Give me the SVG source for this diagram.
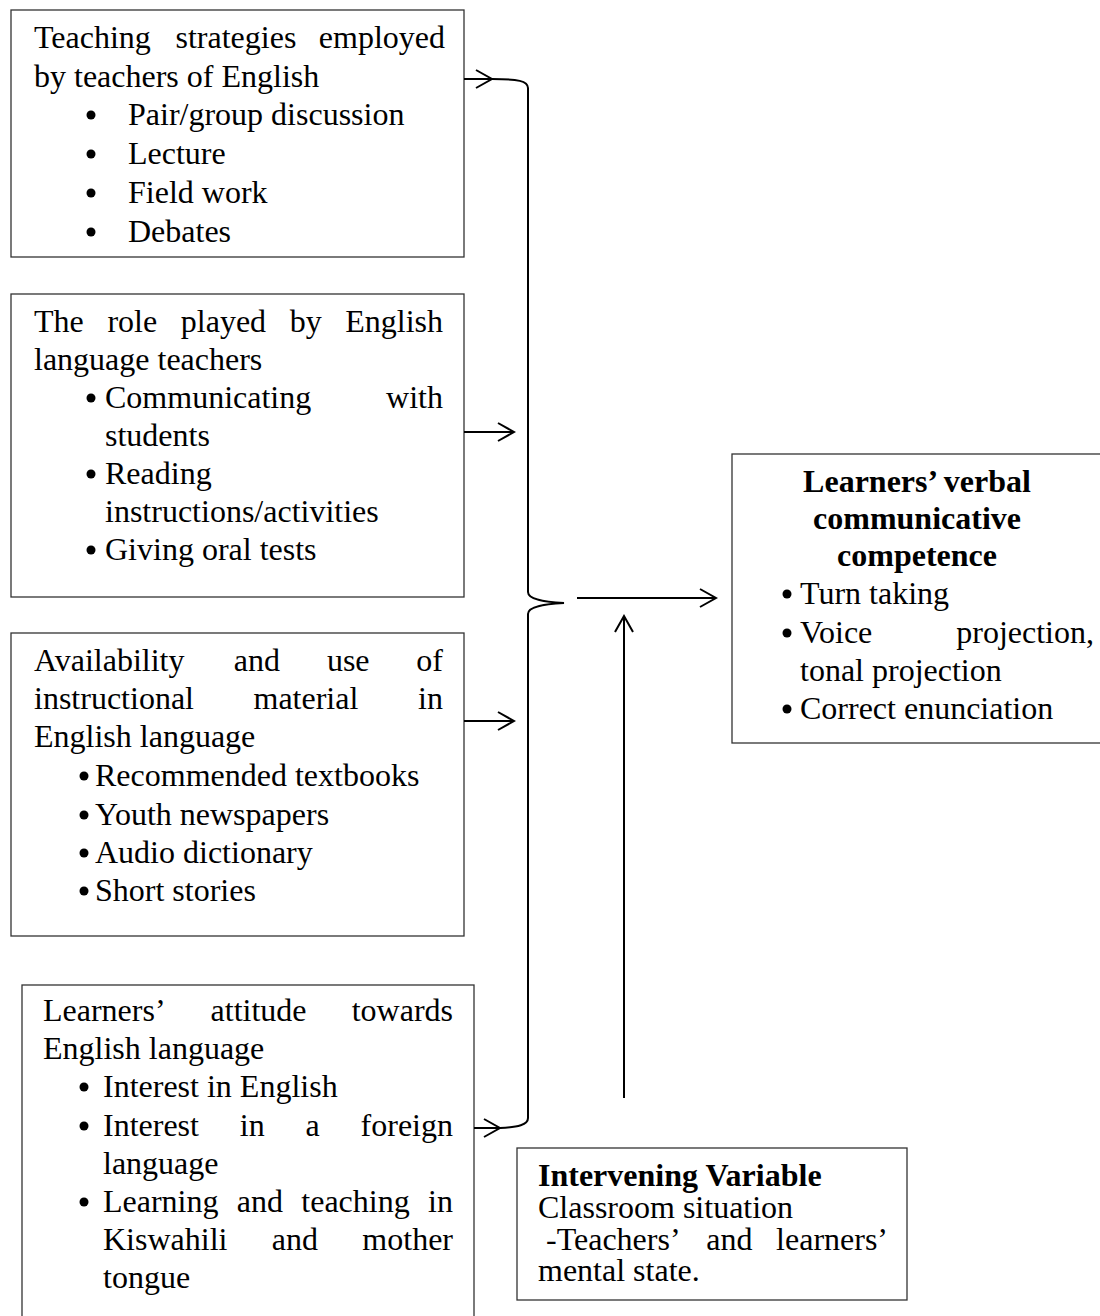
<svg xmlns="http://www.w3.org/2000/svg" width="1100" height="1316" viewBox="0 0 1100 1316">
<defs>
<style>
.t{font-family:"Liberation Serif","Times New Roman",serif;font-size:32px;fill:#000}
.b{font-weight:bold}
.e{text-anchor:end}
.box{fill:#fff;stroke:#333;stroke-width:1.3}
.c{fill:none;stroke:#000;stroke-width:2}
.dot{fill:#000}
</style>
<marker id="ah" viewBox="0 0 20 20" markerWidth="20" markerHeight="20" refX="18" refY="10" orient="auto" markerUnits="userSpaceOnUse">
<path d="M2,1 L18,10 L2,19" fill="none" stroke="#000" stroke-width="2"/>
</marker>
</defs>
<rect width="1100" height="1316" fill="#fff"/>

<g id="box-strategies">
<rect class="box" x="11" y="10" width="453" height="247"/>
<text class="t" y="48"><tspan x="34">Teaching</tspan><tspan x="175.5">strategies</tspan><tspan x="445" class="e">employed</tspan></text>
<text class="t" x="34" y="87">by teachers of English</text>
<circle class="dot" cx="91" cy="115" r="4.5"/><text class="t" x="128" y="125">Pair/group discussion</text>
<circle class="dot" cx="91" cy="154" r="4.5"/><text class="t" x="128" y="164">Lecture</text>
<circle class="dot" cx="91" cy="193" r="4.5"/><text class="t" x="128" y="203">Field work</text>
<circle class="dot" cx="91" cy="232" r="4.5"/><text class="t" x="128" y="242">Debates</text>
</g>

<g id="box-role">
<rect class="box" x="11" y="294" width="453" height="303"/>
<text class="t" y="332"><tspan x="34">The</tspan><tspan x="107.4">role</tspan><tspan x="180.8">played</tspan><tspan x="289.7">by</tspan><tspan x="443" class="e">English</tspan></text>
<text class="t" x="34" y="370">language teachers</text>
<circle class="dot" cx="91" cy="398" r="4.5"/><text class="t" y="408"><tspan x="105">Communicating</tspan><tspan x="443" class="e">with</tspan></text>
<text class="t" x="105" y="446">students</text>
<circle class="dot" cx="91" cy="474" r="4.5"/><text class="t" x="105" y="484">Reading</text>
<text class="t" x="105" y="522">instructions/activities</text>
<circle class="dot" cx="91" cy="550" r="4.5"/><text class="t" x="105" y="560">Giving oral tests</text>
</g>

<g id="box-materials">
<rect class="box" x="11" y="633" width="453" height="303"/>
<text class="t" y="671"><tspan x="34">Availability</tspan><tspan x="233.8">and</tspan><tspan x="326.9">use</tspan><tspan x="443" class="e">of</tspan></text>
<text class="t" y="709"><tspan x="34">instructional</tspan><tspan x="253.5">material</tspan><tspan x="443" class="e">in</tspan></text>
<text class="t" x="34" y="747">English language</text>
<circle class="dot" cx="84" cy="776" r="4.5"/><text class="t" x="95" y="786">Recommended textbooks</text>
<circle class="dot" cx="84" cy="815" r="4.5"/><text class="t" x="95" y="825">Youth newspapers</text>
<circle class="dot" cx="84" cy="853" r="4.5"/><text class="t" x="95" y="863">Audio dictionary</text>
<circle class="dot" cx="84" cy="891" r="4.5"/><text class="t" x="95" y="901">Short stories</text>
</g>

<g id="box-attitude">
<rect class="box" x="22" y="985" width="452" height="345"/>
<text class="t" y="1021"><tspan x="43">Learners’</tspan><tspan x="210.6">attitude</tspan><tspan x="453" class="e">towards</tspan></text>
<text class="t" x="43" y="1059">English language</text>
<circle class="dot" cx="84" cy="1087" r="4.5"/><text class="t" x="103" y="1097">Interest in English</text>
<circle class="dot" cx="84" cy="1126" r="4.5"/><text class="t" y="1136"><tspan x="103">Interest</tspan><tspan x="239.8">in</tspan><tspan x="305.5">a</tspan><tspan x="453" class="e">foreign</tspan></text>
<text class="t" x="103" y="1174">language</text>
<circle class="dot" cx="84" cy="1202" r="4.5"/><text class="t" y="1212"><tspan x="103">Learning</tspan><tspan x="236.8">and</tspan><tspan x="301.3">teaching</tspan><tspan x="453" class="e">in</tspan></text>
<text class="t" y="1250"><tspan x="103">Kiswahili</tspan><tspan x="271.8">and</tspan><tspan x="453" class="e">mother</tspan></text>
<text class="t" x="103" y="1288">tongue</text>
</g>

<g id="box-outcome">
<rect class="box" x="732" y="454" width="390" height="289"/>
<text class="t b" x="917" y="492" text-anchor="middle">Learners’ verbal</text>
<text class="t b" x="917" y="529" text-anchor="middle">communicative</text>
<text class="t b" x="917" y="566" text-anchor="middle">competence</text>
<circle class="dot" cx="787" cy="594" r="4.5"/><text class="t" x="800" y="604">Turn taking</text>
<circle class="dot" cx="787" cy="633" r="4.5"/><text class="t" y="643"><tspan x="800">Voice</tspan><tspan x="1094" class="e">projection,</tspan></text>
<text class="t" x="800" y="681">tonal projection</text>
<circle class="dot" cx="787" cy="709" r="4.5"/><text class="t" x="800" y="719">Correct enunciation</text>
</g>

<g id="box-intervening">
<rect class="box" x="517" y="1148" width="390" height="152"/>
<text class="t b" x="538" y="1186">Intervening Variable</text>
<text class="t" x="538" y="1218">Classroom situation</text>
<text class="t" y="1250"><tspan x="546">-Teachers’</tspan><tspan x="706.3">and</tspan><tspan x="888" class="e">learners’</tspan></text>
<text class="t" x="538" y="1281">mental state.</text>
</g>

<g id="connectors">
<line class="c" x1="464" y1="79" x2="492" y2="79" marker-end="url(#ah)"/>
<path class="c" d="M492,79 C518,79 528,81 528,88 L528,592 C528,600 546,602 564,603 C546,604 528,606 528,614 L528,1118 C528,1125 518,1127 500,1128"/>
<line class="c" x1="464" y1="432" x2="514" y2="432" marker-end="url(#ah)"/>
<line class="c" x1="464" y1="721" x2="514" y2="721" marker-end="url(#ah)"/>
<line class="c" x1="474" y1="1128" x2="500" y2="1128" marker-end="url(#ah)"/>
<line class="c" x1="577" y1="598" x2="716" y2="598" marker-end="url(#ah)"/>
<line class="c" x1="624" y1="1098" x2="624" y2="616" marker-end="url(#ah)"/>
</g>
</svg>
